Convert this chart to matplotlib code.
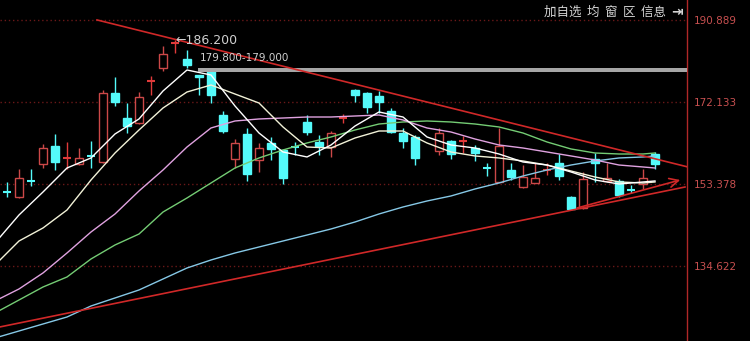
import matplotlib
matplotlib.use('Agg')
import matplotlib.pyplot as plt

# === DATA (daily candles) ===
days = list(range(0, 35)) + list(range(36, 55))
opens = [151.6, 150.41, 154.1, 157.95, 162.07, 159.3, 157.95, 159.8, 158.41, 174.19,
         168.47, 167.33, 176.9, 179.91, 185.6, 181.97, 178.31, 179.45, 169.16, 159.10,
         164.82, 158.87, 162.76, 161.16, 161.9, 167.56, 162.99, 161.84, 168.4, 174.88,
         174.19, 173.50, 170.08, 165.04, 164.13,
         160.93, 163.21, 163.2, 161.61, 157.1, 153.84, 156.58, 152.69, 153.61, 156.5,
         158.18, 150.41, 147.89, 159.10, 154.07, 154.07, 152.05, 153.38, 160.24]
highs = [153.84, 156.81, 156.81, 162.53, 164.82, 162.99, 161.61, 163.21, 174.88, 177.85,
         171.90, 174.42, 178.08, 184.94, 186.2, 184.03, 178.4, 179.91, 170.08, 163.67,
         166.19, 162.76, 164.13, 161.39, 162.99, 169.16, 164.59, 165.50, 169.39, 175.11,
         174.42, 174.65, 170.76, 166.19, 164.59,
         166.19, 163.44, 164.36, 162.30, 158.18, 166.19, 158.18, 157.72, 158.18, 158.18,
         160.24, 150.64, 156.13, 160.47, 158.18, 154.52, 153.15, 156.81, 160.70]
lows = [150.41, 150.18, 152.92, 157.04, 156.58, 156.81, 157.72, 157.04, 158.18, 171.22,
        165.04, 167.10, 173.73, 179.22, 183.34, 179.91, 173.73, 171.90, 165.04, 157.04,
        154.07, 156.13, 158.87, 153.38, 160.01, 164.59, 160.01, 159.56, 167.33, 172.13,
        169.62, 169.62, 165.04, 161.61, 157.72,
        160.01, 159.10, 160.47, 158.64, 155.21, 153.84, 154.30, 152.46, 153.61, 155.44,
        154.30, 147.43, 147.66, 153.84, 153.84, 150.41, 151.32, 152.24, 156.81]
closes = [151.5, 154.75, 154.0, 161.61, 158.41, 159.4, 159.33, 159.7, 174.19, 172.13,
          166.64, 173.27, 177.0, 183.11, 185.7, 180.59, 177.85, 173.73, 165.50, 162.76,
          155.67, 161.61, 161.39, 154.75, 161.8, 165.27, 162.07, 165.04, 168.5, 173.73,
          170.99, 172.13, 165.27, 163.21, 159.33,
          165.04, 160.24, 163.3, 160.47, 157.0, 162.07, 154.98, 154.98, 154.75, 156.6,
          155.21, 147.66, 154.52, 158.18, 154.75, 150.87, 151.97, 154.75, 157.95]

# moving averages, sampled every two days
ma_days = [-1, 1, 3, 5, 7, 9, 11, 13, 15, 17, 19, 21, 23, 25, 27, 29, 31, 33, 35,
           37, 39, 41, 43, 45, 47, 49, 51, 53, 54]
ma5 = [139.89, 146.29, 151.55, 157.04, 159.33, 164.82, 168.25, 174.65, 179.45, 178.31,
       171.22, 165.04, 160.70, 159.56, 162.30, 166.64, 169.85, 168.70, 164.13, 162.30,
       161.61, 160.24, 158.41, 157.72, 156.13, 154.30, 153.38, 153.84, 154.07]
ma10 = [134.86, 140.34, 143.32, 147.43, 154.30, 160.47, 165.73, 170.76, 174.42, 176.02,
        173.96, 171.90, 166.42, 161.84, 161.61, 163.90, 165.50, 165.50, 162.76, 160.70,
        159.79, 159.33, 158.64, 157.72, 156.35, 154.98, 153.84, 153.61, 153.84]
ma20 = [126.62, 129.37, 133.03, 137.60, 142.40, 146.52, 151.78, 156.58, 161.84, 166.19,
        167.79, 168.25, 168.47, 168.70, 168.70, 168.93, 169.16, 168.02, 166.19, 165.27,
        163.67, 162.30, 161.61, 160.70, 159.79, 158.87, 157.72, 157.27, 157.04]
ma30 = [123.88, 126.85, 129.82, 132.11, 136.23, 139.43, 141.94, 146.97, 150.18, 153.61,
        157.04, 159.33, 161.16, 162.76, 164.13, 165.73, 167.10, 167.56, 167.79, 167.56,
        167.10, 166.42, 165.04, 162.99, 161.39, 160.47, 160.24, 160.24, 160.47]
ma60 = [118.16, 119.76, 121.36, 122.96, 125.48, 127.31, 129.14, 131.65, 134.17, 136.00,
        137.60, 138.97, 140.34, 141.71, 143.09, 144.69, 146.52, 148.12, 149.49, 150.64,
        152.24, 153.61, 155.21, 156.58, 157.72, 158.64, 159.33, 159.56, 159.79]

# hand drawn trend lines (day, price)
upper_trend = [(7.5, 190.9), (56.7, 157.3)]
lower_trend = [(-0.6, 120.68), (56.5, 152.69)]
arrow_trend = [(47.5, 147.89), (56.1, 154.3)]
band_low, band_high, band_start = 179.0, 179.8, 15.9

price_ticks = [190.889, 172.133, 153.378, 134.622]

RED = '#cc4848'
RED_CROSS = '#e03a3a'
CYAN = '#54fafa'

fig = plt.figure(figsize=(7.5, 3.41), dpi=100, facecolor='black')
ax = fig.add_axes([0, 0, 687 / 750, 1])
ax.set_facecolor('black')
ax.set_xlim(-0.583, 56.667)
ax.set_ylim(117.47, 195.46)

# grid + right price axis
ax.set_yticks(price_ticks)
ax.set_yticklabels([f'{v:.3f}' for v in price_ticks])
ax.yaxis.tick_right()
ax.tick_params(axis='y', length=0, pad=5, labelcolor='#c85050', labelsize=7.5)
ax.set_xticks([])
ax.grid(axis='y', color='#6a1818', linestyle=(0, (1, 2)), linewidth=1)
for s in ['top', 'left', 'bottom']:
    ax.spines[s].set_visible(False)
ax.spines['right'].set_color('#b02828')
ax.spines['right'].set_linewidth(1)

# candles
w = 0.66
for d, o, h, l, c in zip(days, opens, highs, lows, closes):
    col = RED if c >= o else CYAN
    if abs(c - o) < 0.3:
        if c >= o:
            col = RED_CROSS
        ax.vlines(d, l, h, color=col, linewidth=1, zorder=2)
        ax.hlines((o + c) / 2, d - w / 2, d + w / 2, color=col, linewidth=1.5, zorder=2)
    elif c > o:
        ax.vlines(d, l, h, color=col, linewidth=1, zorder=2)
        ax.bar(d, c - o, bottom=o, width=w, facecolor='black', edgecolor=col,
               linewidth=1, zorder=2)
    else:
        ax.vlines(d, l, h, color=col, linewidth=1, zorder=2)
        ax.bar(d, o - c, bottom=c, width=w, facecolor=col, edgecolor=col,
               linewidth=1, zorder=2)

# moving averages
ax.plot(ma_days, ma60, color='#86c8e6', lw=1, zorder=3)
ax.plot(ma_days, ma30, color='#74cc74', lw=1, zorder=3)
ax.plot(ma_days, ma20, color='#e0a2e0', lw=1, zorder=3)
ax.plot(ma_days, ma10, color='#f2f2d8', lw=1, zorder=3)
ax.plot(ma_days, ma5, color='#ffffff', lw=1, zorder=3)

# gray resistance band
ax.fill_between([band_start, 56.667], band_low, band_high, color='#a6a6a6', lw=0, zorder=3)

# trend lines
ax.plot(*zip(*upper_trend), color='#d02828', lw=1.2, zorder=4)
ax.plot(*zip(*lower_trend), color='#d02828', lw=1.2, zorder=4)
ax.annotate('', xy=arrow_trend[1], xytext=arrow_trend[0],
            arrowprops=dict(arrowstyle='->', color='#d02828', lw=1.2,
                            mutation_scale=16, shrinkA=0, shrinkB=0), zorder=4)

# labels
ax.text(14.0, 186.2, '←186.200', color='#d0d0d0', fontsize=9, ha='left', va='center',
        zorder=5)
ax.text(16.1, 182.2, '179.800-179.000', color='#d0d0d0', fontsize=7.5, ha='left',
        va='center', zorder=5)

fig.text(666 / 750, 1 - 12 / 341, '加自选  均  窗  区  信息', color='#d4d4d4', fontsize=9,
         ha='right', va='center', family=['Noto Sans CJK SC', 'DejaVu Sans'])
fig.text(671 / 750, 1 - 12 / 341, '⇥', color='#d4d4d4', fontsize=10, fontweight='bold',
         ha='left', va='center', family=['DejaVu Sans'])

fig.savefig('out.png', dpi=100, facecolor='black')
